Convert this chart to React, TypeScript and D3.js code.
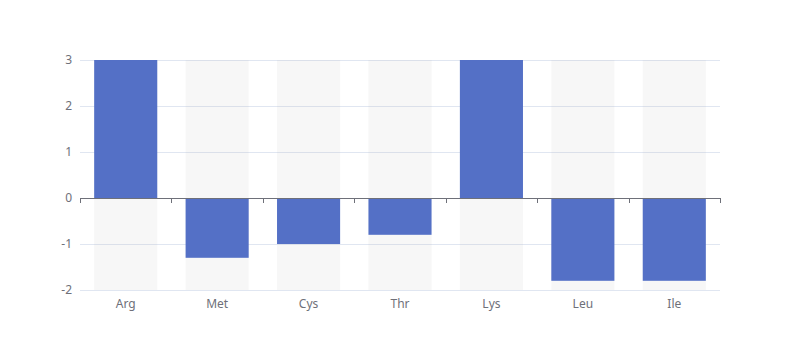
import React from "react";
import * as d3 from "d3";

const categories = ["Arg", "Met", "Cys", "Thr", "Lys", "Leu", "Ile"];
const values = [3, -1.3, -1, -0.8, 3, -1.8, -1.8];
const yTicks = [-2, -1, 0, 1, 2, 3];

export default function App() {
  const width = 800;
  const height = 360;
  const left = 80, right = 720, top = 60, bottom = 290;
  const x = d3.scaleBand<string>().domain(categories).range([left, right]).paddingInner(0).paddingOuter(0);
  const y = d3.scaleLinear().domain([-2, 3]).range([bottom, top]);
  const bw = x.bandwidth() * 0.69;
  const font = "'Noto Sans', 'DejaVu Sans', sans-serif";
  const y0 = y(0);
  const boundaries = d3.range(categories.length + 1).map((i) => left + i * x.step());

  return (
    <svg width={width} height={height} style={{ position: "absolute", left: 0, top: 0 }}>
      {yTicks.map((t) => (
        <line key={"g" + t} x1={left} x2={right} y1={y(t) + 0.5} y2={y(t) + 0.5} stroke="#E0E6F1" strokeWidth={1} />
      ))}
      {categories.map((c) => (
        <rect key={"bg" + c} x={x(c)! + (x.bandwidth() - bw) / 2} y={top} width={bw} height={bottom - top} fill="rgba(180,180,180,0.1)" />
      ))}
      {categories.map((c, i) => {
        const v = values[i];
        const yv = y(Math.max(-2, Math.min(3, v)));
        return (
          <rect key={"b" + c} x={x(c)! + (x.bandwidth() - bw) / 2} y={Math.min(yv, y0)} width={bw} height={Math.abs(yv - y0)} fill="#5470c6" />
        );
      })}
      <line x1={left} x2={right} y1={y0 + 0.5} y2={y0 + 0.5} stroke="#6E7079" strokeWidth={1} />
      {boundaries.map((bx, i) => (
        <line key={"t" + i} x1={Math.round(bx) + 0.5} x2={Math.round(bx) + 0.5} y1={y0} y2={y0 + 5} stroke="#6E7079" strokeWidth={1} />
      ))}
      {yTicks.map((t) => (
        <text key={"yl" + t} x={72} y={y(t)} dy="0.35em" textAnchor="end" fontSize={12} fill="#6E7079" fontFamily={font}>
          {t}
        </text>
      ))}
      {categories.map((c) => (
        <text key={"xl" + c} x={x(c)! + x.bandwidth() / 2} y={bottom + 8} dy="0.8em" textAnchor="middle" fontSize={12} fill="#6E7079" fontFamily={font}>
          {c}
        </text>
      ))}
    </svg>
  );
}
